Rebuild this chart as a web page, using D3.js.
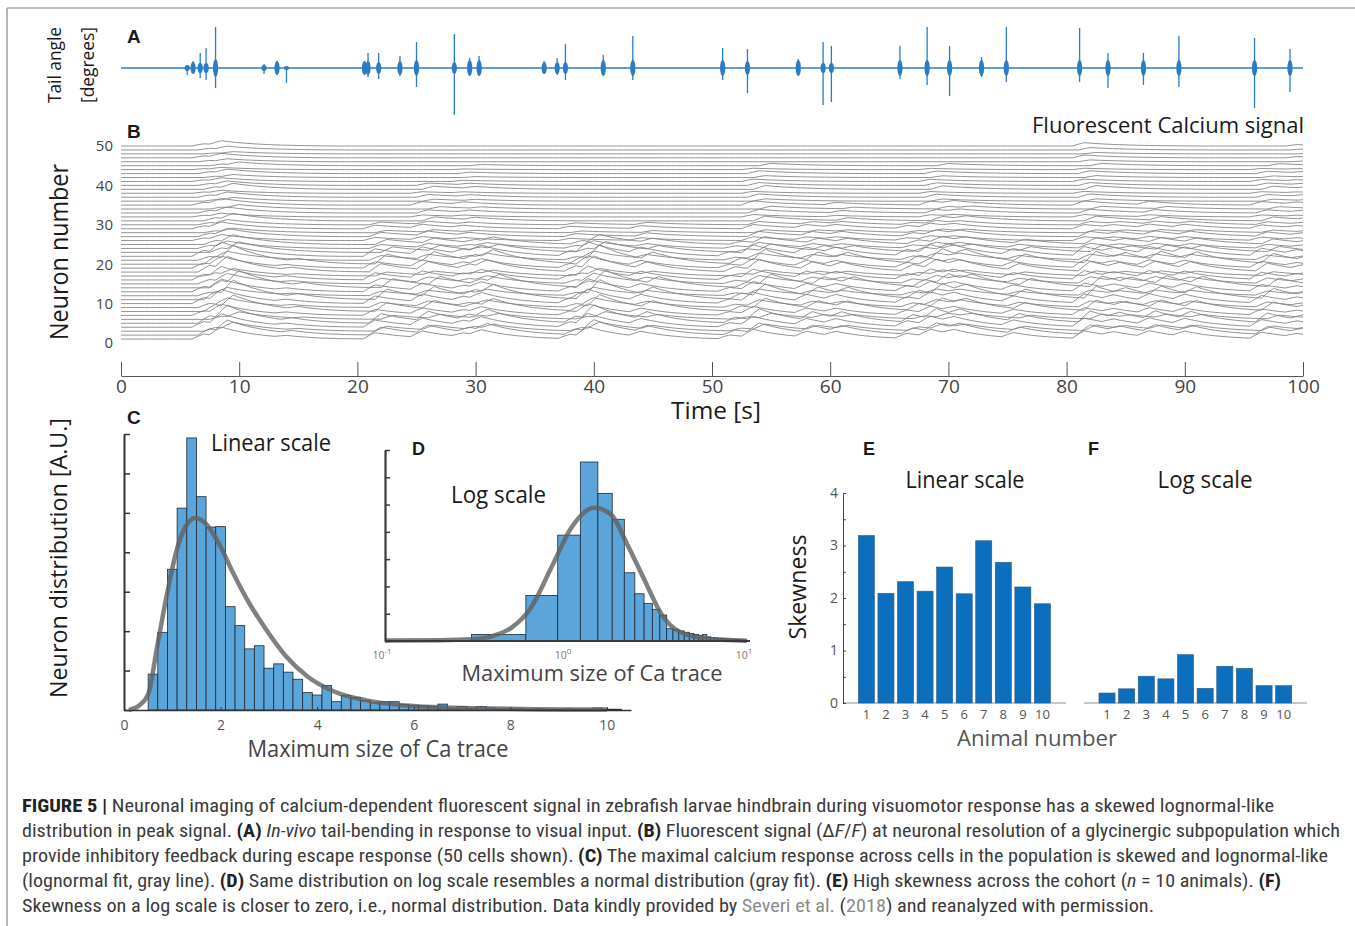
<!DOCTYPE html>
<html lang="en">
<head>
<meta charset="UTF-8">
<title>Figure 5</title>
<script src="https://cdn.jsdelivr.net/npm/d3@7"></script>
<style>
  body { margin: 0; background: #fff; }
  svg text { font-family: 'Open Sans', 'Lato', sans-serif; }
  .cap { font-family: 'Liberation Sans Narrow', 'Roboto Condensed', 'Liberation Sans', sans-serif; font-size: 18px; fill: #3a3a3a; white-space: pre; }
  .panel { font-family: 'Liberation Sans', Arial, sans-serif !important; font-weight: bold; }
</style>
</head>
<body>
<svg width="1355" height="926" id="mainsvg"></svg>
<script>
// ---------- data ----------
// A: tail bouts [time s, peak up deg, peak down deg, burst half-height deg]
const tailBouts = [
  [5.6, 3, 7, 3], [6.1, 7, 5, 6], [6.7, 15, 10, 5], [7.2, 20, 12, 5], [8.0, 41, 20, 9],
  [12.1, 4, 6, 3], [13.2, 7, 6, 7], [14.0, 0, 15, 2],
  [20.6, 7, 6, 7], [20.9, 15, 9, 7], [21.8, 15, 11, 6], [23.6, 12, 8, 7], [25.0, 26, 19, 8],
  [28.2, 34, 47, 6], [29.5, 10, 6, 8], [30.3, 12, 7, 8],
  [35.8, 7, 6, 6], [36.9, 10, 7, 6], [37.6, 24, 12, 6], [40.8, 13, 5, 8], [43.3, 32, 12, 8],
  [50.9, 20, 12, 8], [53.0, 19, 25, 7], [57.3, 9, 7, 8], [59.4, 26, 37, 5], [60.1, 22, 34, 5],
  [65.9, 22, 11, 8], [68.2, 41, 17, 8], [70.1, 22, 28, 8], [72.8, 11, 9, 8], [74.9, 41, 14, 8],
  [81.1, 40, 14, 8], [83.5, 15, 20, 8], [86.5, 15, 17, 8], [89.5, 32, 19, 8],
  [95.9, 30, 40, 8], [98.9, 19, 24, 8]
];

// B: calcium events (time, size, how many neurons from the bottom respond),
// per-neuron gain / lag, response shape (0.5 s samples)
const caEventTimes = [6.5, 8.0, 13.5, 21.0, 25.0, 28.3, 30.0, 37.5, 38.8, 43.3, 51.0, 53.0,
                      57.5, 60.0, 66.0, 68.2, 70.2, 75.0, 81.2, 83.5, 86.5, 89.5, 96.0, 98.9];
const caEventSize  = [0.8, 1.4, 0.3, 1.0, 1.0, 0.6, 0.9, 0.7, 1.5, 0.8, 0.6, 1.2,
                      0.9, 0.7, 0.8, 1.1, 0.7, 0.8, 1.2, 0.6, 0.9, 0.8, 1.0, 0.5];
const caEventTop   = [50, 50, 20, 30, 40, 45, 25, 30, 25, 30, 25, 45,
                      30, 35, 30, 45, 35, 25, 50, 30, 35, 30, 45, 50];
const neuronGain = [1.6, 2.0, 1.2, 1.8, 2.4, 1.0, 1.5, 2.2, 1.3, 1.9,
                    2.6, 1.1, 1.7, 2.3, 1.4, 1.8, 1.0, 2.1, 1.6, 2.5,
                    1.2, 1.9, 1.4, 1.0, 1.3, 0.8, 1.1, 0.6, 0.9, 0.7,
                    1.0, 0.5, 0.8, 0.6, 0.9, 0.5, 0.7, 0.4, 0.8, 0.6,
                    0.5, 0.4, 0.6, 0.3, 0.5, 0.4, 0.6, 0.3, 0.5, 0.7];
const neuronLag = [0, 0.5, 1, 0, 0.5, 1.5, 0, 1, 0.5, 0,
                   1, 0.5, 0, 1.5, 0.5, 0, 1, 0.5, 0, 1,
                   0.5, 0, 1.5, 0.5, 1, 0, 0.5, 1, 0, 0.5,
                   1, 0, 0.5, 1.5, 0, 1, 0.5, 0, 1, 0.5,
                   0, 1, 0.5, 0, 1.5, 0.5, 0, 1, 0.5, 0];
const caKernel = [0.55, 1, 0.86, 0.74, 0.63, 0.54, 0.46, 0.39, 0.33, 0.28, 0.23,
                  0.19, 0.16, 0.13, 0.1, 0.08, 0.06, 0.04, 0.03, 0.02, 0.01];
const timeTicks = [0, 10, 20, 30, 40, 50, 60, 70, 80, 90, 100];
const neuronTicks = [0, 10, 20, 30, 40, 50];

// C: linear histogram (bins of 0.2 from 0.5) and lognormal fit
const cBinStart = 0.5, cBinWidth = 0.2;
const cCounts = [0.91, 1.97, 3.57, 5.12, 6.9, 5.41, 4.64, 4.65, 2.62, 2.14,
                 1.55, 1.63, 1.06, 1.17, 0.96, 0.78, 0.44, 0.38, 0.62, 0.21,
                 0.37, 0.32, 0.24, 0.19, 0.21, 0.21, 0.14, 0.11, 0.11, 0.09,
                 0.15, 0.05, 0.09, 0.05, 0.09, 0.05, 0.03, 0.03, 0.03, 0.02,
                 0.03, 0.02, 0.02, 0.03, 0.02, 0.02, 0.05, 0.02, 0.02];
const cFitX = [0.1, 0.3, 0.5, 0.7, 0.9, 1.1, 1.3, 1.47, 1.7, 2.0, 2.25, 2.55, 2.95, 3.35, 3.8, 4.35, 5.0, 5.7, 6.5, 7.5, 8.5, 10];
const cFitY = [0, 0.1, 0.4, 1.7, 3.0, 4.1, 4.7, 4.87, 4.72, 4.14, 3.5, 2.8, 2.03, 1.37, 0.85, 0.47, 0.25, 0.13, 0.07, 0.04, 0.02, 0.01];
const cTicks = [0, 2, 4, 6, 8, 10];

// D: log histogram (bins of 0.3 from 0.3) and normal fit on log axis
const dBinStart = 0.3, dBinWidth = 0.3;
const dCounts = [0.24, 1.67, 3.88, 6.56, 5.41, 4.46, 2.50, 1.73, 1.38, 1.16,
                 0.95, 0.45, 0.43, 0.37, 0.32, 0.27, 0.24, 0.21, 0.24, 0.15,
                 0.13, 0.12, 0.10, 0.10, 0.08, 0.08, 0.06, 0.06, 0.05, 0.05, 0.04, 0.04];
const dFitX = [0.1, 0.2, 0.3, 0.4, 0.5, 0.64, 0.83, 1.07, 1.43, 1.77, 2.18, 2.73, 3.37, 4.15, 5.9, 10];
const dFitY = [0.02, 0.03, 0.06, 0.2, 0.49, 1.22, 2.69, 4.15, 4.88, 4.64, 3.54, 2.2, 0.98, 0.37, 0.09, 0.01];
const dTicks = [[0.1, '-1'], [1, '0'], [10, '1']];

// E / F: skewness per animal
const animals = ['1', '2', '3', '4', '5', '6', '7', '8', '9', '10'];
const skewLinear = [3.19, 2.09, 2.31, 2.13, 2.59, 2.08, 3.09, 2.68, 2.21, 1.89];
const skewLog = [0.19, 0.27, 0.51, 0.46, 0.92, 0.28, 0.70, 0.66, 0.33, 0.33];
const skewTicks = [0, 0.5, 1, 1.5, 2, 2.5, 3, 3.5, 4];

// caption
const captionLines = [
  [['FIGURE 5 | ', 'b'], ['Neuronal imaging of calcium-dependent fluorescent signal in zebrafish larvae hindbrain during visuomotor response has a skewed lognormal-like', '']],
  [['distribution in peak signal. ', ''], ['(A)', 'b'], [' ', ''], ['In-vivo', 'i'], [' tail-bending in response to visual input. ', ''], ['(B)', 'b'],
   [' Fluorescent signal (Δ', ''], ['F', 'i'], ['/', ''], ['F', 'i'], [') at neuronal resolution of a glycinergic subpopulation which', '']],
  [['provide inhibitory feedback during escape response (50 cells shown). ', ''], ['(C)', 'b'], [' The maximal calcium response across cells in the population is skewed and lognormal-like', '']],
  [['(lognormal fit, gray line). ', ''], ['(D)', 'b'], [' Same distribution on log scale resembles a normal distribution (gray fit). ', ''], ['(E)', 'b'],
   [' High skewness across the cohort (', ''], ['n', 'i'], [' = 10 animals). ', ''], ['(F)', 'b']],
  [['Skewness on a log scale is closer to zero, i.e., normal distribution. Data kindly provided by ', ''], ['Severi et al.', 'g'], [' (', ''], ['2018', 'g'], [') and reanalyzed with permission.', '']]
];
const captionEnds = [1274, 1340, 1328, 1281, 1154];

// ---------- drawing ----------
const svg = d3.select('#mainsvg');
const tailBlue = '#2a7cc7';
const histBlue = '#5ca5da';
const barBlue = '#0b6fbe';

// frame
svg.append('line').attr('x1', 7).attr('y1', 8).attr('x2', 1355).attr('y2', 8).attr('stroke', '#888').attr('stroke-width', 1.2);
svg.append('line').attr('x1', 7).attr('y1', 8).attr('x2', 7).attr('y2', 926).attr('stroke', '#888').attr('stroke-width', 1.2);

const label = (x, y, txt, opts = {}) => {
  const t = svg.append('text').attr('x', x).attr('y', y).text(txt)
    .attr('font-size', opts.size || 20).attr('fill', opts.fill || '#1a1a1a')
    .attr('text-anchor', opts.anchor || 'start');
  if (opts.rotate) t.attr('transform', `rotate(-90,${x},${y})`);
  if (opts.len) t.attr('textLength', opts.len).attr('lengthAdjust', 'spacingAndGlyphs');
  if (opts.cls) t.attr('class', opts.cls);
  return t;
};

// ---- A ----
const xTime = d3.scaleLinear().domain([0, 100]).range([121, 1303]);
const yTail = d3.scaleLinear().domain([-50, 50]).range([118, 18]);
const gA = svg.append('g');
gA.append('line').attr('x1', xTime(0)).attr('x2', xTime(100)).attr('y1', yTail(0)).attr('y2', yTail(0))
  .attr('stroke', tailBlue).attr('stroke-width', 1.3);
gA.selectAll('line.spike').data(tailBouts).join('line').attr('class', 'spike')
  .attr('x1', d => xTime(d[0])).attr('x2', d => xTime(d[0]))
  .attr('y1', d => yTail(d[1])).attr('y2', d => yTail(-d[2]))
  .attr('stroke', tailBlue).attr('stroke-width', 1.3);
gA.selectAll('ellipse').data(tailBouts).join('ellipse')
  .attr('cx', d => xTime(d[0])).attr('cy', yTail(0))
  .attr('rx', 2.6).attr('ry', d => yTail(0) - yTail(d[3]))
  .attr('fill', tailBlue);

label(127, 43, 'A', {size: 19, cls: 'panel'});
label(61, 65, 'Tail angle', {size: 18, anchor: 'middle', rotate: true, len: 76});
label(94, 65, '[degrees]', {size: 18, anchor: 'middle', rotate: true, len: 76});

// ---- B ----
const yNeuron = d3.scaleLinear().domain([0, 50]).range([343, 146]);
const sampleT = d3.range(0, 100.001, 0.5);
const traces = neuronGain.map((gain, i) => sampleT.map(t => {
  let v = 0;
  caEventTimes.forEach((te, j) => {
    if (i >= caEventTop[j]) return;
    const k = Math.round((t - te - neuronLag[i]) / 0.5);
    if (k >= 0 && k < caKernel.length) v += gain * caEventSize[j] * caKernel[k];
  });
  return [t, i + 1 + v];
}));
const traceLine = d3.line().x(d => xTime(d[0])).y(d => yNeuron(d[1]));
svg.append('g').selectAll('path').data(traces).join('path')
  .attr('d', traceLine).attr('fill', 'none').attr('stroke', '#808080').attr('stroke-width', 0.85);

const yAxisB = svg.append('g').attr('transform', 'translate(113,0)')
  .call(d3.axisLeft(yNeuron).tickValues(neuronTicks).tickSize(0).tickPadding(0));
yAxisB.select('.domain').remove();
yAxisB.selectAll('text').attr('font-size', 15).attr('fill', '#444');

const xAxisB = svg.append('g').attr('transform', 'translate(0,376)')
  .call(d3.axisBottom(xTime).tickValues(timeTicks).tickSize(-14).tickSizeOuter(0).tickPadding(3));
xAxisB.select('.domain').attr('stroke', '#555');
xAxisB.selectAll('.tick line').attr('stroke', '#555');
xAxisB.selectAll('text').attr('font-size', 19).attr('fill', '#444');

label(127, 138, 'B', {size: 19, cls: 'panel'});
label(1304, 133, 'Fluorescent Calcium signal', {size: 22, anchor: 'end', len: 272});
label(68, 252, 'Neuron number', {size: 25, anchor: 'middle', rotate: true, len: 176});
label(716, 419, 'Time [s]', {size: 24, anchor: 'middle', len: 90});

// ---- C ----
const xC = d3.scaleLinear().domain([0, 10.5]).range([124, 631]);
const yC = d3.scaleLinear().domain([0, 7]).range([710, 434]);
svg.append('g').selectAll('rect').data(cCounts).join('rect')
  .attr('x', (d, i) => xC(cBinStart + i * cBinWidth))
  .attr('width', (d, i) => xC(cBinStart + (i + 1) * cBinWidth) - xC(cBinStart + i * cBinWidth))
  .attr('y', d => yC(d)).attr('height', d => yC(0) - yC(d))
  .attr('fill', histBlue).attr('stroke', '#1d2a36').attr('stroke-width', 0.8);
const cFit = cFitX.map((x, i) => [x, cFitY[i]]);
svg.append('path').datum(cFit)
  .attr('d', d3.line().x(d => xC(d[0])).y(d => yC(d[1])).curve(d3.curveMonotoneX))
  .attr('fill', 'none').attr('stroke', '#606060').attr('stroke-opacity', 0.8).attr('stroke-width', 4.5);

const yAxisC = svg.append('g').attr('transform', 'translate(124,0)')
  .call(d3.axisLeft(yC).tickValues(d3.range(0, 8)).tickSize(-6).tickSizeOuter(0).tickFormat(''));
yAxisC.select('.domain').attr('stroke', '#333').attr('stroke-width', 2);
yAxisC.selectAll('.tick line').attr('stroke', '#333').attr('stroke-width', 1.5);
const xAxisC = svg.append('g').attr('transform', 'translate(0,710)')
  .call(d3.axisBottom(xC).tickValues(cTicks).tickSize(-3).tickSizeOuter(0).tickPadding(10));
xAxisC.select('.domain').attr('stroke', '#333').attr('stroke-width', 1.5);
xAxisC.selectAll('.tick line').attr('stroke', '#333');
xAxisC.selectAll('text').attr('font-size', 14).attr('fill', '#555');

label(127, 424, 'C', {size: 19, cls: 'panel'});
label(211, 451, 'Linear scale', {size: 23, len: 120});
label(67, 558, 'Neuron distribution [A.U.]', {size: 24, anchor: 'middle', rotate: true, len: 280});
label(378, 757, 'Maximum size of Ca trace', {size: 23, anchor: 'middle', len: 261, fill: '#444'});

// ---- D ----
const xD = d3.scaleLog().domain([0.1, 10]).range([385, 747]);
const yD = d3.scaleLinear().domain([0, 7]).range([641, 450]);
svg.append('g').selectAll('rect').data(dCounts).join('rect')
  .attr('x', (d, i) => xD(dBinStart + i * dBinWidth))
  .attr('width', (d, i) => xD(dBinStart + (i + 1) * dBinWidth) - xD(dBinStart + i * dBinWidth))
  .attr('y', d => yD(d)).attr('height', d => yD(0) - yD(d))
  .attr('fill', histBlue).attr('stroke', '#1d2a36').attr('stroke-width', 0.8);
const dFit = dFitX.map((x, i) => [x, dFitY[i]]);
svg.append('path').datum(dFit)
  .attr('d', d3.line().x(d => xD(d[0])).y(d => yD(d[1])).curve(d3.curveMonotoneX))
  .attr('fill', 'none').attr('stroke', '#606060').attr('stroke-opacity', 0.8).attr('stroke-width', 4.5);

const yAxisD = svg.append('g').attr('transform', 'translate(385,0)')
  .call(d3.axisLeft(yD).tickValues(d3.range(0, 8)).tickSize(-5).tickSizeOuter(0).tickFormat(''));
yAxisD.select('.domain').attr('stroke', '#3a3a3a').attr('stroke-width', 2.2);
yAxisD.selectAll('.tick line').attr('stroke', '#3a3a3a').attr('stroke-width', 1.5);
svg.append('line').attr('x1', 385).attr('x2', 750).attr('y1', yD(0)).attr('y2', yD(0))
  .attr('stroke', '#3a3a3a').attr('stroke-width', 2.2);
const dTickG = svg.append('g').selectAll('text').data(dTicks).join('text')
  .attr('x', d => xD(d[0]) - 3).attr('y', 659).attr('text-anchor', 'middle')
  .attr('font-size', 10.5).attr('fill', '#777');
dTickG.append('tspan').text('10');
dTickG.append('tspan').attr('dy', -5).attr('font-size', 8).text(d => d[1]);

label(412, 455, 'D', {size: 18, cls: 'panel'});
label(451, 503, 'Log scale', {size: 23, len: 95});
label(592, 681, 'Maximum size of Ca trace', {size: 22.5, anchor: 'middle', len: 261, fill: '#444'});

// ---- E / F ----
const yE = d3.scaleLinear().domain([0, 4]).range([703, 493]);
const xE = d3.scaleBand().domain(animals).range([856.6, 1052.2]).paddingInner(0.18).paddingOuter(0.09);
const xF = d3.scaleBand().domain(animals).range([1097.2, 1293.5]).paddingInner(0.18).paddingOuter(0.09);

svg.append('line').attr('x1', 843).attr('x2', 1066).attr('y1', yE(0)).attr('y2', yE(0)).attr('stroke', '#b5b5b5').attr('stroke-width', 1.5);
svg.append('line').attr('x1', 1084).attr('x2', 1307).attr('y1', yE(0)).attr('y2', yE(0)).attr('stroke', '#b5b5b5').attr('stroke-width', 1.5);

svg.append('g').selectAll('rect').data(skewLinear).join('rect')
  .attr('x', (d, i) => xE(animals[i])).attr('width', xE.bandwidth())
  .attr('y', d => yE(d)).attr('height', d => yE(0) - yE(d))
  .attr('fill', barBlue).attr('stroke', '#2a5a88').attr('stroke-width', 0.6);
svg.append('g').selectAll('rect').data(skewLog).join('rect')
  .attr('x', (d, i) => xF(animals[i])).attr('width', xF.bandwidth())
  .attr('y', d => yE(d)).attr('height', d => yE(0) - yE(d))
  .attr('fill', barBlue).attr('stroke', '#2a5a88').attr('stroke-width', 0.6);

const yAxisE = svg.append('g').attr('transform', 'translate(843,0)')
  .call(d3.axisLeft(yE).tickValues(skewTicks).tickSize(-3).tickSizeOuter(0).tickPadding(5)
    .tickFormat(d => Number.isInteger(d) ? d : ''));
yAxisE.select('.domain').attr('stroke', '#444');
yAxisE.selectAll('.tick line').attr('stroke', '#444');
yAxisE.selectAll('text').attr('font-size', 14).attr('fill', '#555');

[xE, xF].forEach(sc => {
  svg.append('g').selectAll('text').data(animals).join('text')
    .attr('x', d => sc(d) + sc.bandwidth() / 2).attr('y', 719)
    .attr('text-anchor', 'middle').attr('font-size', 13).attr('fill', '#555').text(d => d);
});

label(863, 455, 'E', {size: 18, cls: 'panel'});
label(1088, 455, 'F', {size: 18, cls: 'panel'});
label(965, 488, 'Linear scale', {size: 23, anchor: 'middle', len: 119});
label(1205, 488, 'Log scale', {size: 23, anchor: 'middle', len: 95});
label(806, 587, 'Skewness', {size: 23, anchor: 'middle', rotate: true, len: 105});
label(1037, 746, 'Animal number', {size: 22, anchor: 'middle', len: 160, fill: '#555'});

// ---- caption ----
captionLines.forEach((segs, li) => {
  const t = svg.append('text').attr('class', 'cap')
    .attr('x', 22).attr('y', 812 + li * 25)
    .attr('textLength', captionEnds[li] - 22).attr('lengthAdjust', 'spacingAndGlyphs');
  segs.forEach(([s, st]) => {
    const sp = t.append('tspan').text(s);
    if (st === 'b') sp.attr('font-weight', 'bold').attr('fill', '#222');
    if (st === 'i') sp.attr('font-style', 'italic');
    if (st === 'g') sp.attr('fill', '#8a8a8a');
  });
});
</script>
</body>
</html>
